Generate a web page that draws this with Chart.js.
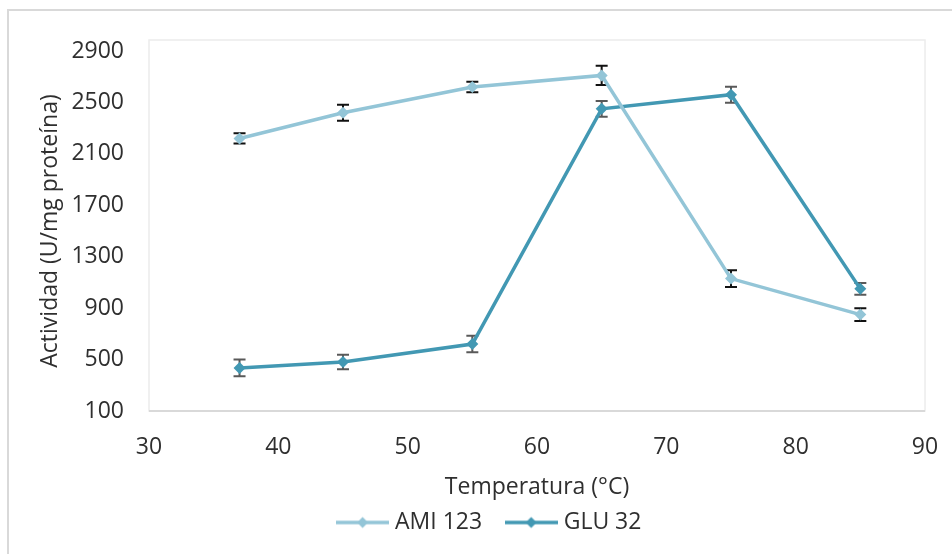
<!DOCTYPE html>
<html>
<head>
<meta charset="utf-8">
<script src="https://cdn.jsdelivr.net/npm/chart.js@4.4.0/dist/chart.umd.min.js"></script>
<style>
  html, body { margin: 0; padding: 0; background: #fff; }
  #wrap { width: 952px; height: 554px; }
</style>
</head>
<body>
<div id="wrap"><canvas id="line-chart"></canvas></div>
<script>
// Temperatura (°C)
var temps = [37, 45, 55, 65, 75, 85];
// AMI 123
var ami = [2220, 2420, 2620, 2710, 1130, 850];
var amiErr = [40, 62, 40, 75, 65, 50];
// GLU 32
var glu = [435, 481, 621, 2450, 2560, 1050];
var gluErr = [65, 57, 65, 62, 62, 45];
var yTicks = [100, 500, 900, 1300, 1700, 2100, 2500, 2900];
var xTicks = [30, 40, 50, 60, 70, 80, 90];

var amiColor = '#93c5d7';
var gluColor = '#4298b3';
var fontName = "'Open Sans', 'Noto Sans', sans-serif";
var textColor = '#2f2f2f';

function pts(vals) {
  return temps.map(function (t, i) { return {x: t, y: vals[i]}; });
}

// legend icon: short line with a diamond
function legendIcon(color) {
  var c = document.createElement('canvas');
  c.width = 53; c.height = 14;
  var g = c.getContext('2d');
  g.strokeStyle = color; g.lineWidth = 3.5;
  g.beginPath(); g.moveTo(0, 7); g.lineTo(53, 7); g.stroke();
  g.fillStyle = color;
  g.beginPath(); g.moveTo(26.5, 1.5); g.lineTo(32, 7); g.lineTo(26.5, 12.5); g.lineTo(21, 7); g.closePath(); g.fill();
  return c;
}

var frame = {
  id: 'frame',
  beforeDraw: function (chart) {
    var ctx = chart.ctx, a = chart.chartArea;
    ctx.save();
    ctx.fillStyle = '#fff';
    ctx.fillRect(0, 0, chart.width, chart.height);
    ctx.strokeStyle = '#d9d9d9'; ctx.lineWidth = 2;
    ctx.strokeRect(8, 10, chart.width, chart.height);
    // plot area box
    ctx.strokeStyle = '#ececec'; ctx.lineWidth = 1.5;
    ctx.strokeRect(a.left, a.top - 11, a.right - a.left, a.bottom - a.top + 11);
    ctx.strokeStyle = '#d9d9d9'; ctx.lineWidth = 2;
    ctx.beginPath(); ctx.moveTo(a.left, a.bottom); ctx.lineTo(a.right, a.bottom); ctx.stroke();
    ctx.restore();
  }
};

var errorBars = {
  id: 'errorBars',
  beforeDatasetsDraw: function (chart) {
    var ctx = chart.ctx, xs = chart.scales.x, ys = chart.scales.y;
    var sets = [[ami, amiErr, '#111'], [glu, gluErr, '#595959']];
    ctx.save();
    ctx.lineWidth = 2;
    sets.forEach(function (s) {
      ctx.strokeStyle = s[2];
      temps.forEach(function (t, i) {
        var x = xs.getPixelForValue(t);
        var hi = ys.getPixelForValue(s[0][i] + s[1][i]);
        var lo = ys.getPixelForValue(s[0][i] - s[1][i]);
        ctx.beginPath();
        ctx.moveTo(x, hi); ctx.lineTo(x, lo);
        ctx.moveTo(x - 6, hi); ctx.lineTo(x + 6, hi);
        ctx.moveTo(x - 6, lo); ctx.lineTo(x + 6, lo);
        ctx.stroke();
      });
    });
    ctx.restore();
  }
};

new Chart(document.getElementById('line-chart'), {
  type: 'line',
  data: {
    datasets: [
      {
        label: 'AMI 123',
        data: pts(ami),
        borderColor: amiColor,
        backgroundColor: amiColor,
        borderWidth: 3.5,
        pointStyle: 'rectRot',
        pointRadius: 6,
        pointBorderWidth: 0,
        tension: 0
      },
      {
        label: 'GLU 32',
        data: pts(glu),
        borderColor: gluColor,
        backgroundColor: gluColor,
        borderWidth: 3.5,
        pointStyle: 'rectRot',
        pointRadius: 6,
        pointBorderWidth: 0,
        tension: 0
      }
    ]
  },
  options: {
    responsive: true,
    maintainAspectRatio: false,
    animation: false,
    layout: { padding: { top: 51, right: 27, left: 58, bottom: 10 } },
    plugins: {
      tooltip: { enabled: false },
      legend: {
        position: 'bottom',
        labels: {
          font: { family: fontName, size: 23 },
          color: textColor,
          usePointStyle: true,
          pointStyleWidth: 42,
          padding: 28,
          generateLabels: function (chart) {
            return chart.data.datasets.map(function (ds, i) {
              return {
                text: ds.label,
                pointStyle: legendIcon(ds.borderColor),
                fillStyle: ds.borderColor,
                strokeStyle: ds.borderColor,
                lineWidth: 0,
                fontColor: textColor,
                datasetIndex: i
              };
            });
          }
        }
      }
    },
    scales: {
      x: {
        type: 'linear',
        min: 30,
        max: 90,
        afterBuildTicks: function (s) { s.ticks = xTicks.map(function (v) { return {value: v}; }); },
        afterFit: function (s) { s.height = 72; s.paddingRight = 10; s.paddingLeft = 10; },
        grid: { display: false, drawTicks: false },
        border: { display: false },
        ticks: {
          font: { family: fontName, size: 23 }, color: textColor, padding: 23,
          callback: function (v) { return String(v); }
        },
        title: {
          display: true,
          text: 'Temperatura (°C)',
          font: { family: fontName, size: 23 },
          color: textColor,
          padding: { top: 0, bottom: -18 }
        }
      },
      y: {
        min: 100,
        max: 2900,
        afterBuildTicks: function (s) { s.ticks = yTicks.map(function (v) { return {value: v}; }); },
        afterFit: function (s) { s.width = 91; },
        grid: { display: false, drawTicks: false },
        border: { display: false },
        ticks: {
          font: { family: fontName, size: 23 }, color: textColor, padding: 25,
          callback: function (v) { return String(v); }
        },
        title: {
          display: true,
          text: 'Actividad (U/mg proteína)',
          font: { family: fontName, size: 23 },
          color: textColor,
          padding: { top: -21, bottom: 0 }
        }
      }
    }
  },
  plugins: [frame, errorBars]
});
</script>
</body>
</html>
